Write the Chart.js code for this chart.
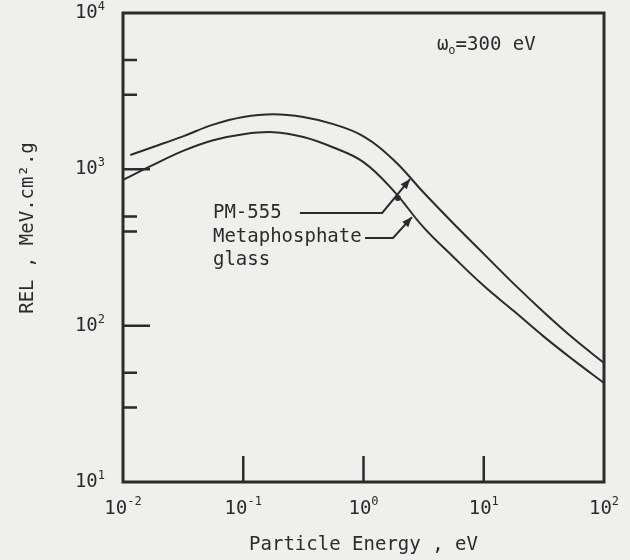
<!DOCTYPE html>
<html>
<head>
<meta charset="utf-8">
<script src="https://cdn.jsdelivr.net/npm/chart.js@4/dist/chart.umd.min.js"></script>
<style>
  body { margin: 0; background: #efefed; }
  #wrap { width: 630px; height: 560px; }
</style>
</head>
<body>
<div id="wrap"><canvas id="relChart" width="630" height="560"></canvas></div>
<script>
// Curve data (energy in eV, REL in MeV.cm2/g)
const energyPM = [0.0115, 0.0178, 0.0316, 0.0562, 0.1, 0.178, 0.316, 0.562, 1, 1.78, 3.16, 5.62, 10, 17.8, 31.6, 56.2, 100];
const relPM = [1236, 1390, 1626, 1932, 2163, 2254, 2163, 1945, 1625, 1148, 711, 449, 288, 185, 122, 82.4, 57.7];

const energyMeta = [0.01, 0.0178, 0.0316, 0.0562, 0.1, 0.178, 0.316, 0.562, 1, 1.78, 3.16, 5.62, 10, 17.8, 31.6, 56.2, 100];
const relMeta = [855, 1067, 1312, 1535, 1679, 1728, 1610, 1380, 1112, 728, 425, 274, 180, 124, 85.1, 60.0, 43.0];

// Axis ticks
const xMajorTicks = [0.01, 0.1, 1, 10, 100];
const xInnerTicks = [0.1, 1, 10];
const yMajorTicks = [10, 100, 1000, 10000];
const yInnerMajor = [100, 1000];
const yInnerMinor = [30, 50, 400, 500, 3000, 5000];

const ink = '#2b2b2b';
const mono = '"DejaVu Sans Mono", "Liberation Mono", monospace';

function toXY(points, series) {
    return points.map((e, i) => ({ x: e, y: series[i] }));
}

function expOf(v) {
    return String(Math.round(Math.log10(v)));
}

// frame, inside ticks, labels and annotations
const figurePlugin = {
    id: 'figure',
    beforeDraw(chart) {
        const ctx = chart.ctx;
        ctx.save();
        ctx.fillStyle = '#efefed';
        ctx.fillRect(0, 0, chart.width, chart.height);
        ctx.restore();
    },
    afterDraw(chart) {
        const ctx = chart.ctx;
        const area = chart.chartArea;
        const xs = chart.scales.x;
        const ys = chart.scales.y;
        ctx.save();
        ctx.strokeStyle = ink;
        ctx.fillStyle = ink;

        // frame
        ctx.lineWidth = 3;
        ctx.strokeRect(area.left, area.top, area.right - area.left, area.bottom - area.top);

        // inner ticks
        ctx.lineWidth = 2.5;
        ctx.beginPath();
        xInnerTicks.forEach(v => {
            const px = xs.getPixelForValue(v);
            ctx.moveTo(px, area.bottom);
            ctx.lineTo(px, area.bottom - 26);
        });
        yInnerMajor.forEach(v => {
            const py = ys.getPixelForValue(v);
            ctx.moveTo(area.left, py);
            ctx.lineTo(area.left + 27, py);
        });
        yInnerMinor.forEach(v => {
            const py = ys.getPixelForValue(v);
            ctx.moveTo(area.left, py);
            ctx.lineTo(area.left + 14, py);
        });
        ctx.stroke();

        // tick labels 10^n
        const big = '19px ' + mono;
        const small = '12px ' + mono;
        ctx.textBaseline = 'middle';
        yMajorTicks.forEach(v => {
            const py = ys.getPixelForValue(v);
            const e = expOf(v);
            ctx.font = small;
            const we = ctx.measureText(e).width;
            ctx.textAlign = 'left';
            ctx.fillText(e, 105 - we, py - 6);
            ctx.font = big;
            ctx.textAlign = 'right';
            ctx.fillText('10', 105 - we, py);
        });
        xMajorTicks.forEach(v => {
            const px = xs.getPixelForValue(v);
            const e = expOf(v);
            ctx.font = big;
            const w10 = ctx.measureText('10').width;
            ctx.font = small;
            const we = ctx.measureText(e).width;
            const x0 = px - (w10 + we) / 2;
            ctx.textAlign = 'left';
            ctx.fillText(e, x0 + w10, area.bottom + 20);
            ctx.font = big;
            ctx.fillText('10', x0, area.bottom + 27);
        });

        // axis titles
        ctx.font = big;
        ctx.textAlign = 'center';
        ctx.fillText('Particle Energy , eV', (area.left + area.right) / 2, area.bottom + 63);
        ctx.save();
        ctx.translate(28, 228);
        ctx.rotate(-Math.PI / 2);
        ctx.fillText('REL , MeV.cm².g', 0, 0);
        ctx.restore();

        // omega label
        let ox = xs.getPixelForValue(4.08);
        const oy = ys.getPixelForValue(6240);
        ctx.textAlign = 'left';
        ctx.font = big;
        ctx.fillText('ω', ox, oy);
        ox += ctx.measureText('ω').width;
        ctx.font = small;
        ctx.fillText('o', ox, oy + 6);
        ox += ctx.measureText('o').width;
        ctx.font = big;
        ctx.fillText('=300 eV', ox, oy);

        // curve labels
        const tx = xs.getPixelForValue(0.056);
        ctx.fillText('PM-555', tx, ys.getPixelForValue(526));
        ctx.fillText('Metaphosphate', tx, ys.getPixelForValue(369));
        ctx.fillText('glass', tx, ys.getPixelForValue(263));

        // leader lines with arrows
        const leader = (pts) => {
            const p = pts.map(([e, r]) => [xs.getPixelForValue(e), ys.getPixelForValue(r)]);
            ctx.lineWidth = 2;
            ctx.beginPath();
            ctx.moveTo(p[0][0], p[0][1]);
            for (let i = 1; i < p.length; i++) ctx.lineTo(p[i][0], p[i][1]);
            ctx.stroke();
            const [ax, ay] = p[p.length - 1];
            const [bx, by] = p[p.length - 2];
            const ang = Math.atan2(ay - by, ax - bx);
            ctx.beginPath();
            ctx.moveTo(ax, ay);
            ctx.lineTo(ax - 10 * Math.cos(ang) + 4 * Math.sin(ang), ay - 10 * Math.sin(ang) - 4 * Math.cos(ang));
            ctx.lineTo(ax - 10 * Math.cos(ang) - 4 * Math.sin(ang), ay - 10 * Math.sin(ang) + 4 * Math.cos(ang));
            ctx.closePath();
            ctx.fill();
        };
        leader([[0.296, 526], [1.43, 526], [2.44, 867]]);
        leader([[1.03, 364], [1.76, 364], [2.53, 495]]);
        ctx.beginPath();
        ctx.arc(xs.getPixelForValue(1.93), ys.getPixelForValue(655), 3, 0, Math.PI * 2);
        ctx.fill();

        ctx.restore();
    }
};

const ctx = document.getElementById('relChart').getContext('2d');
const relChart = new Chart(ctx, {
    type: 'line',
    data: {
        datasets: [{
            label: 'PM-555',
            data: toXY(energyPM, relPM),
            borderColor: ink,
            borderWidth: 2,
            pointRadius: 0,
            tension: 0.4,
            fill: false
        }, {
            label: 'Metaphosphate glass',
            data: toXY(energyMeta, relMeta),
            borderColor: ink,
            borderWidth: 2,
            pointRadius: 0,
            tension: 0.4,
            fill: false
        }]
    },
    options: {
        responsive: false,
        animation: false,
        layout: {
            padding: { left: 123, right: 26, top: 13, bottom: 78 }
        },
        plugins: {
            legend: { display: false },
            tooltip: { enabled: false }
        },
        scales: {
            x: {
                type: 'logarithmic',
                min: 0.01,
                max: 100,
                display: false
            },
            y: {
                type: 'logarithmic',
                min: 10,
                max: 10000,
                display: false
            }
        }
    },
    plugins: [figurePlugin]
});
</script>
</body>
</html>
